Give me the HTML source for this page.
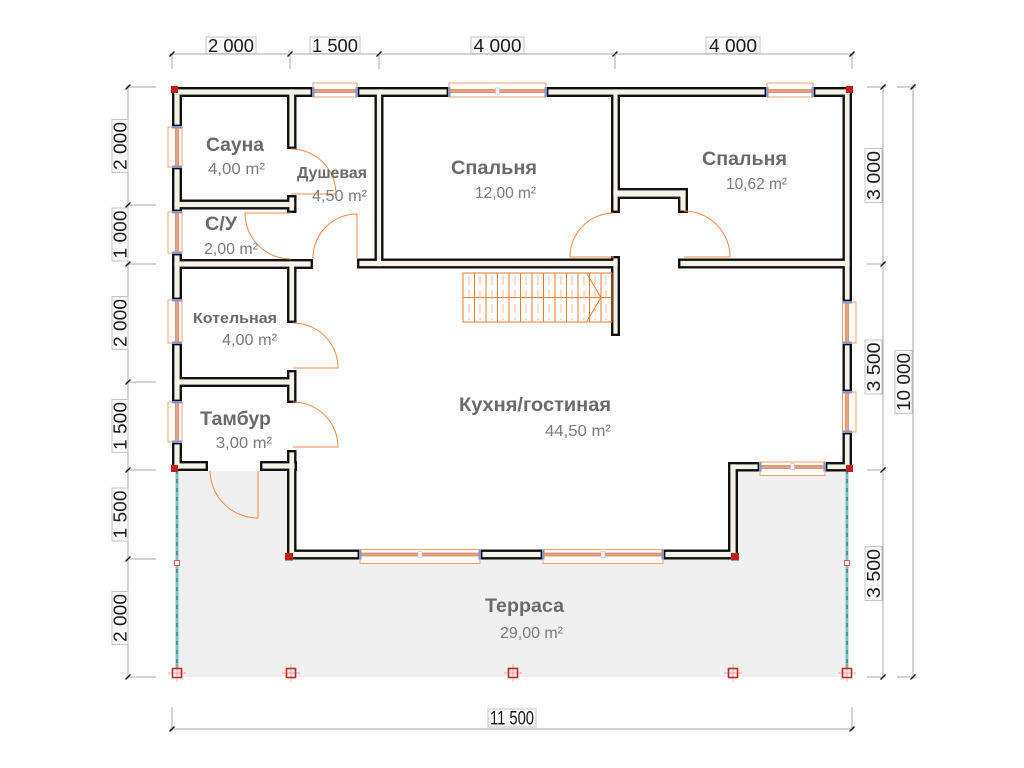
<!DOCTYPE html>
<html><head><meta charset="utf-8"><style>
html,body{margin:0;padding:0;background:#fff;}
svg{display:block;}
.dim{font-family:"Liberation Sans",sans-serif;font-size:18.5px;fill:#1a1a1a;}
.nm{font-family:"Liberation Sans",sans-serif;font-weight:bold;fill:#6a6a6a;}
.ar{font-family:"Liberation Sans",sans-serif;fill:#7a7a7a;font-size:16px;}
</style></head><body>
<svg width="1024" height="768" viewBox="0 0 1024 768" xmlns="http://www.w3.org/2000/svg">
<rect width="1024" height="768" fill="#fff"/>
<polygon points="177,471 287,471 287,559.5 738,559.5 738,471 847,471 847,677 177,677" fill="#f0f0f0"/>
<g stroke="#a8a8a8" stroke-width="1" fill="none">
<line x1="170" y1="54" x2="854" y2="54"/>
<line x1="172" y1="54" x2="172" y2="69"/><line x1="290" y1="54" x2="290" y2="69"/><line x1="379" y1="54" x2="379" y2="69"/><line x1="615" y1="54" x2="615" y2="69"/><line x1="852" y1="54" x2="852" y2="69"/>
<line x1="128" y1="85" x2="128" y2="679"/>
<line x1="126" y1="87" x2="156" y2="87"/><line x1="126" y1="205" x2="156" y2="205"/><line x1="126" y1="264" x2="156" y2="264"/><line x1="126" y1="382" x2="156" y2="382"/><line x1="126" y1="470" x2="156" y2="470"/><line x1="126" y1="559" x2="156" y2="559"/><line x1="126" y1="677" x2="156" y2="677"/>
<line x1="883" y1="85" x2="883" y2="679"/>
<line x1="867" y1="87" x2="886" y2="87"/><line x1="867" y1="264" x2="886" y2="264"/><line x1="867" y1="470" x2="886" y2="470"/><line x1="867" y1="677" x2="886" y2="677"/>
<line x1="913" y1="85" x2="913" y2="679"/>
<line x1="897" y1="87" x2="916" y2="87"/><line x1="897" y1="677" x2="916" y2="677"/>
<line x1="170" y1="729" x2="854" y2="729"/>
<line x1="172" y1="707" x2="172" y2="731"/><line x1="852" y1="707" x2="852" y2="731"/>
</g>
<g stroke="#111" stroke-width="1.3">
<line x1="169.5" y1="56.5" x2="174.5" y2="51.5"/><line x1="287.5" y1="56.5" x2="292.5" y2="51.5"/><line x1="376.5" y1="56.5" x2="381.5" y2="51.5"/><line x1="612.5" y1="56.5" x2="617.5" y2="51.5"/><line x1="849.5" y1="56.5" x2="854.5" y2="51.5"/>
<line x1="125.5" y1="89.5" x2="130.5" y2="84.5"/><line x1="125.5" y1="207.5" x2="130.5" y2="202.5"/><line x1="125.5" y1="266.5" x2="130.5" y2="261.5"/><line x1="125.5" y1="384.5" x2="130.5" y2="379.5"/><line x1="125.5" y1="472.5" x2="130.5" y2="467.5"/><line x1="125.5" y1="561.5" x2="130.5" y2="556.5"/><line x1="125.5" y1="679.5" x2="130.5" y2="674.5"/>
<line x1="880.5" y1="89.5" x2="885.5" y2="84.5"/><line x1="880.5" y1="266.5" x2="885.5" y2="261.5"/><line x1="880.5" y1="472.5" x2="885.5" y2="467.5"/><line x1="880.5" y1="679.5" x2="885.5" y2="674.5"/>
<line x1="910.5" y1="89.5" x2="915.5" y2="84.5"/><line x1="910.5" y1="679.5" x2="915.5" y2="674.5"/>
<line x1="169.5" y1="731.5" x2="174.5" y2="726.5"/><line x1="849.5" y1="731.5" x2="854.5" y2="726.5"/>
</g>
<g fill="#fbfbfb" stroke="#c4c4c4" stroke-width="1">
<rect x="206" y="37" width="50" height="16.5"/><rect x="310" y="37" width="50" height="16.5"/><rect x="471" y="37" width="53" height="16.5"/><rect x="706" y="37" width="54" height="16.5"/>
<rect x="488" y="709" width="48" height="18"/>
</g>
<g class="dim" text-anchor="middle">
<text x="231" y="52" textLength="46" lengthAdjust="spacingAndGlyphs">2 000</text>
<text x="335" y="52" textLength="46" lengthAdjust="spacingAndGlyphs">1 500</text>
<text x="497.5" y="52" textLength="48" lengthAdjust="spacingAndGlyphs">4 000</text>
<text x="733" y="52" textLength="48" lengthAdjust="spacingAndGlyphs">4 000</text>
<text x="512" y="724.5" textLength="44" lengthAdjust="spacingAndGlyphs" font-size="19.5">11 500</text>
</g>
<g class="dim" text-anchor="middle">
<g transform="translate(120,146) rotate(-90)"><rect x="-26.5" y="-8" width="53" height="16" fill="#fbfbfb" stroke="#c4c4c4"/><text x="0" y="6.5" textLength="48" lengthAdjust="spacingAndGlyphs">2 000</text></g>
<g transform="translate(120,234.5) rotate(-90)"><rect x="-26.5" y="-8" width="53" height="16" fill="#fbfbfb" stroke="#c4c4c4"/><text x="0" y="6.5" textLength="48" lengthAdjust="spacingAndGlyphs">1 000</text></g>
<g transform="translate(120,323) rotate(-90)"><rect x="-26.5" y="-8" width="53" height="16" fill="#fbfbfb" stroke="#c4c4c4"/><text x="0" y="6.5" textLength="48" lengthAdjust="spacingAndGlyphs">2 000</text></g>
<g transform="translate(120,426) rotate(-90)"><rect x="-26.5" y="-8" width="53" height="16" fill="#fbfbfb" stroke="#c4c4c4"/><text x="0" y="6.5" textLength="48" lengthAdjust="spacingAndGlyphs">1 500</text></g>
<g transform="translate(120,514.5) rotate(-90)"><rect x="-26.5" y="-8" width="53" height="16" fill="#fbfbfb" stroke="#c4c4c4"/><text x="0" y="6.5" textLength="48" lengthAdjust="spacingAndGlyphs">1 500</text></g>
<g transform="translate(120,618) rotate(-90)"><rect x="-26.5" y="-8" width="53" height="16" fill="#fbfbfb" stroke="#c4c4c4"/><text x="0" y="6.5" textLength="48" lengthAdjust="spacingAndGlyphs">2 000</text></g>
<g transform="translate(873.5,175.5) rotate(-90)"><rect x="-27" y="-8.5" width="54" height="17" fill="#fbfbfb" stroke="#c4c4c4"/><text x="0" y="6.5" textLength="49" lengthAdjust="spacingAndGlyphs">3 000</text></g>
<g transform="translate(873.5,367) rotate(-90)"><rect x="-27" y="-8.5" width="54" height="17" fill="#fbfbfb" stroke="#c4c4c4"/><text x="0" y="6.5" textLength="49" lengthAdjust="spacingAndGlyphs">3 500</text></g>
<g transform="translate(873.5,573.5) rotate(-90)"><rect x="-27" y="-8.5" width="54" height="17" fill="#fbfbfb" stroke="#c4c4c4"/><text x="0" y="6.5" textLength="49" lengthAdjust="spacingAndGlyphs">3 500</text></g>
<g transform="translate(903.5,382) rotate(-90)"><rect x="-31.5" y="-8.5" width="63" height="17" fill="#fbfbfb" stroke="#c4c4c4"/><text x="0" y="6.5" textLength="58" lengthAdjust="spacingAndGlyphs">10 000</text></g>
</g>
<g stroke="#3f9e9c" stroke-width="2.6"><line x1="177" y1="471" x2="177" y2="669"/><line x1="847" y1="471" x2="847" y2="669"/></g>
<g stroke="#dff2f2" stroke-width="0.8" stroke-dasharray="5 4"><line x1="177" y1="474" x2="177" y2="667"/><line x1="847" y1="474" x2="847" y2="667"/></g>
<g stroke="#ee8a8a" stroke-width="0.7">
<line x1="168" y1="673" x2="186" y2="673"/><line x1="177" y1="664" x2="177" y2="682"/>
<line x1="282" y1="673" x2="300" y2="673"/><line x1="291" y1="664" x2="291" y2="682"/>
<line x1="504" y1="673" x2="522" y2="673"/><line x1="513" y1="664" x2="513" y2="682"/>
<line x1="724" y1="673" x2="742" y2="673"/><line x1="733" y1="664" x2="733" y2="682"/>
<line x1="838" y1="673" x2="856" y2="673"/><line x1="847" y1="664" x2="847" y2="682"/>
</g>
<g fill="none" stroke="#c62a22" stroke-width="1.6">
<rect x="172.5" y="668.5" width="9" height="9"/><rect x="286.5" y="668.5" width="9" height="9"/><rect x="508.5" y="668.5" width="9" height="9"/><rect x="728.5" y="668.5" width="9" height="9"/><rect x="842.5" y="668.5" width="9" height="9"/>
</g>
<g fill="#fff" stroke="#e25a5a" stroke-width="1"><rect x="174.5" y="560.5" width="5" height="5"/><rect x="844.5" y="560.5" width="5" height="5"/></g>
<g fill="#111">
<rect x="172" y="87" width="141" height="10"/><rect x="357" y="87" width="92" height="10"/><rect x="546" y="87" width="221" height="10"/><rect x="813" y="87" width="39" height="10"/>
<rect x="172" y="87" width="10" height="40"/><rect x="172" y="167" width="10" height="45"/><rect x="172" y="253" width="10" height="47"/><rect x="172" y="343" width="10" height="59"/><rect x="172" y="442" width="10" height="29"/>
<rect x="172" y="461" width="36" height="10"/><rect x="260" y="461" width="37" height="10"/>
<rect x="287" y="87" width="9.5" height="62"/><rect x="287" y="195" width="9.5" height="18"/><rect x="287" y="259" width="9.5" height="64"/><rect x="287" y="370" width="9.5" height="33"/><rect x="287" y="450" width="9.5" height="109.5"/>
<rect x="172" y="199.5" width="124.5" height="10"/><rect x="172" y="259" width="141" height="10"/><rect x="172" y="377" width="124.5" height="10"/>
<rect x="357" y="258.5" width="263" height="10"/>
<rect x="374.5" y="87" width="9" height="181.5"/>
<rect x="611" y="87" width="9" height="126"/><rect x="611" y="256" width="9" height="80"/>
<rect x="611" y="188" width="77" height="11"/><rect x="678" y="188" width="10" height="25"/>
<rect x="678" y="258.5" width="174" height="10"/>
<rect x="842.5" y="87" width="9.5" height="215"/><rect x="842.5" y="343" width="9.5" height="49"/><rect x="842.5" y="432" width="9.5" height="39.5"/>
<rect x="728" y="462" width="32" height="9.5"/><rect x="825" y="462" width="27" height="9.5"/>
<rect x="728" y="462" width="10" height="97.5"/>
<rect x="287" y="549.5" width="73" height="10"/><rect x="480" y="549.5" width="63" height="10"/><rect x="663" y="549.5" width="75" height="10"/>
</g>
<g fill="#f5f3e8">
<rect x="174.4" y="89.4" width="136.2" height="5.2"/><rect x="359.4" y="89.4" width="87.2" height="5.2"/><rect x="548.4" y="89.4" width="216.2" height="5.2"/><rect x="815.4" y="89.4" width="34.2" height="5.2"/>
<rect x="174.4" y="89.4" width="5.2" height="35.2"/><rect x="174.4" y="169.4" width="5.2" height="40.2"/><rect x="174.4" y="255.4" width="5.2" height="42.2"/><rect x="174.4" y="345.4" width="5.2" height="54.2"/><rect x="174.4" y="444.4" width="5.2" height="24.2"/>
<rect x="174.4" y="463.4" width="31.2" height="5.2"/><rect x="262.4" y="463.4" width="32.2" height="5.2"/>
<rect x="289.4" y="89.4" width="4.7" height="57.2"/><rect x="289.4" y="197.4" width="4.7" height="13.2"/><rect x="289.4" y="261.4" width="4.7" height="59.2"/><rect x="289.4" y="372.4" width="4.7" height="28.2"/><rect x="289.4" y="452.4" width="4.7" height="104.7"/>
<rect x="174.4" y="201.9" width="119.7" height="5.2"/><rect x="174.4" y="261.4" width="136.2" height="5.2"/><rect x="174.4" y="379.4" width="119.7" height="5.2"/>
<rect x="359.4" y="260.9" width="258.2" height="5.2"/>
<rect x="376.9" y="89.4" width="4.2" height="176.7"/>
<rect x="613.4" y="89.4" width="4.2" height="121.2"/><rect x="613.4" y="258.4" width="4.2" height="75.2"/>
<rect x="613.4" y="190.4" width="72.2" height="6.2"/><rect x="680.4" y="190.4" width="5.2" height="20.2"/>
<rect x="680.4" y="260.9" width="169.2" height="5.2"/>
<rect x="844.9" y="89.4" width="4.7" height="210.2"/><rect x="844.9" y="345.4" width="4.7" height="44.2"/><rect x="844.9" y="434.4" width="4.7" height="34.7"/>
<rect x="730.4" y="464.4" width="27.2" height="4.7"/><rect x="827.4" y="464.4" width="22.2" height="4.7"/>
<rect x="730.4" y="464.4" width="5.2" height="92.7"/>
<rect x="289.4" y="551.9" width="68.2" height="5.2"/><rect x="482.4" y="551.9" width="58.2" height="5.2"/><rect x="665.4" y="551.9" width="70.2" height="5.2"/>
</g>
<g fill="#fff" stroke="#f2a070" stroke-width="1">
<rect x="313" y="83" width="44" height="14"/><rect x="449" y="83" width="97" height="14"/><rect x="767" y="83" width="46" height="14"/>
<rect x="168" y="127" width="14" height="40"/><rect x="168" y="212" width="14" height="41"/><rect x="168" y="300" width="14" height="43"/><rect x="168" y="402" width="14" height="40"/>
<rect x="842.5" y="302" width="13.5" height="41"/><rect x="842.5" y="392" width="13.5" height="40"/>
<rect x="760" y="462" width="65" height="13.5"/>
<rect x="360" y="549.5" width="120" height="14"/><rect x="543" y="549.5" width="120" height="14"/>
</g>
<g fill="#e9a27c" stroke="#d0683a" stroke-width="0.6">
<rect x="313" y="89.5" width="44" height="3"/><rect x="449" y="89.5" width="97" height="3"/><rect x="767" y="89.5" width="46" height="3"/>
<rect x="175.5" y="127" width="3" height="40"/><rect x="175.5" y="212" width="3" height="41"/><rect x="175.5" y="300" width="3" height="43"/><rect x="175.5" y="402" width="3" height="40"/>
<rect x="845.5" y="302" width="3" height="41"/><rect x="845.5" y="392" width="3" height="40"/>
<rect x="760" y="465.5" width="65" height="3"/>
<rect x="360" y="553" width="120" height="3"/><rect x="543" y="553" width="120" height="3"/>
</g>
<g fill="#fff" stroke="#b8b8c8" stroke-width="0.6">
<rect x="495.5" y="88" width="4" height="6"/><rect x="790.5" y="463.5" width="4" height="6"/><rect x="418" y="551.5" width="4" height="6"/><rect x="601" y="551.5" width="4" height="6"/>
</g>
<g fill="#8596cf">
<rect x="312" y="87" width="2.5" height="10"/><rect x="355.5" y="87" width="2.5" height="10"/><rect x="448" y="87" width="2.5" height="10"/><rect x="544.5" y="87" width="2.5" height="10"/><rect x="766" y="87" width="2.5" height="10"/><rect x="811.5" y="87" width="2.5" height="10"/>
<rect x="172" y="126" width="10" height="2.5"/><rect x="172" y="165.5" width="10" height="2.5"/><rect x="172" y="211" width="10" height="2.5"/><rect x="172" y="251.5" width="10" height="2.5"/><rect x="172" y="299" width="10" height="2.5"/><rect x="172" y="341.5" width="10" height="2.5"/><rect x="172" y="401" width="10" height="2.5"/><rect x="172" y="440.5" width="10" height="2.5"/>
<rect x="842.5" y="301" width="9.5" height="2.5"/><rect x="842.5" y="341.5" width="9.5" height="2.5"/><rect x="842.5" y="391" width="9.5" height="2.5"/><rect x="842.5" y="430.5" width="9.5" height="2.5"/>
<rect x="759" y="462" width="2.5" height="9.5"/><rect x="823.5" y="462" width="2.5" height="9.5"/>
<rect x="359" y="549.5" width="2.5" height="10"/><rect x="478.5" y="549.5" width="2.5" height="10"/><rect x="542" y="549.5" width="2.5" height="10"/><rect x="661.5" y="549.5" width="2.5" height="10"/>
</g>
<g fill="#c41e16">
<rect x="171" y="86" width="7" height="7"/><rect x="846" y="86" width="7" height="7"/>
<rect x="171" y="465" width="7" height="7"/><rect x="846" y="465" width="7" height="7"/>
<rect x="285" y="553" width="8" height="7.5"/><rect x="731" y="553" width="8" height="7.5"/>
</g>
<g fill="none" stroke="#f08a4a" stroke-width="1">
<path d="M291 194 H336 A45 45 0 0 0 291 149"/>
<path d="M291 213 H245 A46 46 0 0 0 291 259"/>
<path d="M357 258 V214 A44 44 0 0 0 313 258"/>
<path d="M293 368 H338 A45 45 0 0 0 293 323"/>
<path d="M293 447 H338 A45 45 0 0 0 293 402"/>
<path d="M258 471 V518 A48 48 0 0 1 210 471"/>
<path d="M614 257 H570 A44 44 0 0 1 614 213"/>
<path d="M684 257 H730 A46 46 0 0 0 684 211"/>
</g>
<g fill="none" stroke="#f07a28" stroke-width="1">
<rect x="463" y="273" width="149" height="49"/>
<line x1="463" y1="297.5" x2="611" y2="297.5"/>
<path d="M474.5 273V322M486 273V322M497.5 273V322M509 273V322M520.5 273V322M532 273V322M543.5 273V322M555 273V322M566.5 273V322M578 273V322M589.5 273V322M601 273V322"/>
<polyline points="587,274 601,297.5 587,321"/>
</g>
<g fill="none" stroke="#f3a878" stroke-width="0.8" stroke-dasharray="9 5">
<path d="M469 276V320M480 276V320M492 276V320M503 276V320M515 276V320M526 276V320M538 276V320M549 276V320M561 276V320M572 276V320M584 276V320M595 276V320M606 276V320"/>
</g>
<g class="nm">
<text x="206" y="151" font-size="19" textLength="58" lengthAdjust="spacingAndGlyphs">Сауна</text>
<text x="297" y="178" font-size="15.5" textLength="70" lengthAdjust="spacingAndGlyphs">Душевая</text>
<text x="205" y="230" font-size="19" textLength="32" lengthAdjust="spacingAndGlyphs">С/У</text>
<text x="193" y="323" font-size="15" textLength="84" lengthAdjust="spacingAndGlyphs">Котельная</text>
<text x="200" y="425" font-size="19" textLength="71" lengthAdjust="spacingAndGlyphs">Тамбур</text>
<text x="451" y="174" font-size="19" textLength="86" lengthAdjust="spacingAndGlyphs">Спальня</text>
<text x="702" y="165" font-size="19" textLength="85" lengthAdjust="spacingAndGlyphs">Спальня</text>
<text x="459" y="411" font-size="19" textLength="152" lengthAdjust="spacingAndGlyphs">Кухня/гостиная</text>
<text x="485" y="612" font-size="19" textLength="79" lengthAdjust="spacingAndGlyphs">Терраса</text>
</g>
<g class="ar">
<text x="208" y="174" textLength="57" lengthAdjust="spacingAndGlyphs">4,00 m²</text>
<text x="312" y="201" textLength="55" lengthAdjust="spacingAndGlyphs">4,50 m²</text>
<text x="204" y="254" textLength="54" lengthAdjust="spacingAndGlyphs">2,00 m²</text>
<text x="222" y="345" textLength="55" lengthAdjust="spacingAndGlyphs">4,00 m²</text>
<text x="216" y="448" textLength="56" lengthAdjust="spacingAndGlyphs">3,00 m²</text>
<text x="475" y="198" textLength="61" lengthAdjust="spacingAndGlyphs">12,00 m²</text>
<text x="726" y="189" textLength="61" lengthAdjust="spacingAndGlyphs">10,62 m²</text>
<text x="545" y="436" textLength="66" lengthAdjust="spacingAndGlyphs">44,50 m²</text>
<text x="500" y="638" textLength="63" lengthAdjust="spacingAndGlyphs">29,00 m²</text>
</g>
</svg>
</body></html>
